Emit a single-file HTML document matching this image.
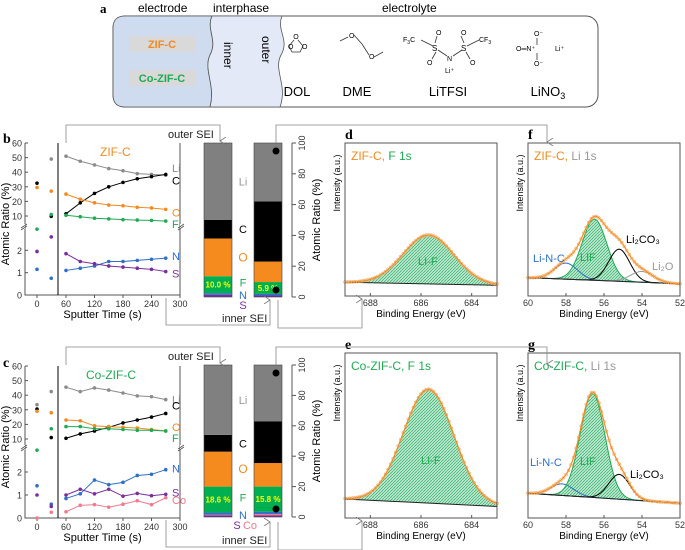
<!DOCTYPE html>
<html><head><meta charset="utf-8"><style>
html,body{margin:0;padding:0;background:#fff}
svg{display:block;font-family:"Liberation Sans",Arial,sans-serif}
</style></head><body>
<svg id="fig" width="685" height="550" viewBox="0 0 685 550" xmlns="http://www.w3.org/2000/svg">
<defs>
<pattern id="hatch" patternUnits="userSpaceOnUse" width="3" height="3"><rect width="3" height="3" fill="#bfe6cf"/><path d="M0,3 L3,0" stroke="#2fb36a" stroke-width="0.7"/></pattern>
<marker id="arr" markerWidth="8" markerHeight="8" refX="4" refY="7" orient="auto-start-reverse" markerUnits="userSpaceOnUse"><path d="M0,1 L4,7 L8,1" fill="none" stroke="#777" stroke-width="0.8"/></marker>
</defs>
<g id="panelA">
<text x="100" y="13" font-family="Liberation Serif" font-weight="bold" font-size="13">a</text>
<text x="138" y="12" font-size="12">electrode</text>
<text x="213" y="12" font-size="12">interphase</text>
<text x="382" y="12" font-size="12">electrolyte</text>
<rect x="113" y="16" width="485" height="91" rx="12" fill="#fff" stroke="#555" stroke-width="1"/>
<path d="M125,16 L212,16 C206,30 218,40 210,55 C203,70 216,85 210,107 L125,107 Q113,107 113,95 L113,28 Q113,16 125,16Z" fill="#cfdcef" stroke="#555" stroke-width="0.8"/>
<path d="M212,16 L282,16 C276,30 290,40 281,55 C273,70 288,85 280,107 L210,107 C216,85 203,70 210,55 C218,40 206,30 212,16Z" fill="#e3e9f6" stroke="#555" stroke-width="0.8"/>
<rect x="129" y="36" width="66" height="16" fill="#d9d9d9"/>
<text x="162" y="48" font-size="11" font-weight="bold" fill="#f28a1e" text-anchor="middle">ZIF-C</text>
<rect x="129" y="70" width="66" height="16" fill="#d9d9d9"/>
<text x="162" y="82" font-size="11" font-weight="bold" fill="#1faa55" text-anchor="middle">Co-ZIF-C</text>
<text transform="translate(224,42) rotate(90)" font-size="12">inner</text>
<text transform="translate(262,36) rotate(90)" font-size="12">outer</text>
<g stroke="#333" stroke-width="0.8" fill="none"><path d="M294,40 L289,46 L292,52 L300,52 L303,46 L298,40"/></g>
<text x="296" y="39" font-size="7" text-anchor="middle">O</text>
<text x="288" y="49" font-size="7">O</text><text x="302" y="49" font-size="7">O</text>
<g stroke="#333" stroke-width="0.8" fill="none"><path d="M340,41 L348,37 M354,35 L362,44 L369,55 M374,57 L383,52"/></g>
<text x="349" y="38" font-size="7">O</text><text x="369" y="59" font-size="7">O</text>
<g stroke="#333" stroke-width="0.8" fill="none"><path d="M421,40 L433,46 M438,50 L447,56 M453,56 L462,50 M467,46 L479,40 M435,43 L437,36 M436,52 L432,59 M464,43 L461,36 M466,52 L470,59"/></g>
<text x="403" y="42" font-size="7">F<tspan font-size="5" dy="2">3</tspan><tspan dy="-2">C</tspan></text>
<text x="432" y="51" font-size="8">S</text><text x="461" y="51" font-size="8">S</text>
<text x="447" y="61" font-size="7">N</text><text x="445" y="73" font-size="7">Li⁺</text>
<text x="436" y="35" font-size="7">O</text><text x="461" y="35" font-size="7">O</text>
<text x="427" y="65" font-size="7">O</text><text x="470" y="65" font-size="7">O</text>
<text x="479" y="42" font-size="7">CF<tspan font-size="5" dy="2">3</tspan></text>
<text x="516" y="51" font-size="7">O═N⁺</text>
<text x="534" y="36" font-size="7">O⁻</text><text x="534" y="66" font-size="7">O⁻</text>
<path d="M537,38 L537,45 M537,53 L537,60" stroke="#333" stroke-width="0.8"/>
<text x="555" y="51" font-size="7">Li⁺</text>
<text x="297" y="96" font-size="13" text-anchor="middle">DOL</text>
<text x="357" y="96" font-size="13" text-anchor="middle">DME</text>
<text x="448" y="96" font-size="13" text-anchor="middle">LiTFSI</text>
<text x="548" y="96" font-size="13" text-anchor="middle">LiNO<tspan font-size="9" dy="3">3</tspan></text>
</g>
<g id="charts"></g>
</svg>
<script>
// ---------- data ----------
const sputterTimes = [60,90,120,150,180,210,240,270];
const earlyTimes = [0,30];
const xTicks = [0,60,120,180,240,300];
const upperTicks = [10,20,30,40,50,60];
const lowerTicks = [0,1,2];
const barTicks = [0,20,40,60,80,100];

const zifLi = [51,47.5,45,42.5,41,39,38.5,38];
const zifC  = [11.5,19,25.5,30,33,35.5,37,38.5];
const zifO  = [25,21.5,19,17.5,17,16,15.5,14.5];
const zifF  = [10.5,9.5,8.5,8,7.5,7.2,7,6.5];
const zifN  = [1.1,1.2,1.3,1.5,1.5,1.55,1.6,1.65];
const zifS  = [1.85,1.5,1.4,1.3,1.25,1.2,1.15,1.05];
const zifEarlyLi = [null,49];
const zifEarlyC  = [32.5,9.8];
const zifEarlyO  = [29.5,27];
const zifEarlyF  = [2.95,11];
const zifEarlyN  = [1.15,0.75];
const zifEarlyS  = [1.95,2.6];

const coLi = [45.5,42.5,45,43.5,41.5,39.5,39,37];
const coC  = [10.5,13.5,15.5,18,21,23,25,27.5];
const coO  = [23,22.5,19,18.5,18,17.5,16.5,15.5];
const coF  = [18.5,18.5,17,17,16.5,16,16,15.5];
const coN  = [0.85,1.05,1.65,1.45,1.55,1.85,1.9,2.1];
const coS  = [1,1.25,1.05,1.25,0.95,1.07,0.97,1.03];
const coCo = [0.27,0.55,0.58,0.47,0.6,0.75,0.58,0.88];
const coEarlyLi = [33.5,42.5];
const coEarlyC  = [30.5,11];
const coEarlyO  = [29,28];
const coEarlyF  = [2.95,17];
const coEarlyN  = [1.4,0.6];
const coEarlyS  = [1,0.5];
const coEarlyCo = [0,0.25];

// stacked bar segments (bottom->top): S, Co, N, F, O, C, Li  (%)
const barSegments = ['S','Co','N','F','O','C','Li'];
const zifOuterBar = [1.5,0,1,11,24.5,12,50];
const zifInnerBar = [1,0,1,7.7,13.3,39,38];
const coOuterBar  = [1,0.5,1.5,17,23,11,46];
const coInnerBar  = [1,1,1.5,16.5,15.5,27.5,37];
const barLabels = ['10.0 %','5.9 %','18.6 %','15.8 %'];

// XPS fits: [center eV, height, sigma]
const dBaseline = [9,7];   const dPeaks = [[685.7,32,1.0]];
const eBaseline = [11.5,7]; const ePeaks = [[685.7,69,1.0]];
const fBaseline = [12,8];
const fPeaks = [[58,10.5,0.6],[56.5,40,0.65],[55.2,21,0.55],[54,7,0.6]];
const gBaseline = [15,9];
const gPeaks = [[58.2,7,0.6],[56.6,63,0.65],[55.2,15,0.55]];
const fTicks=[688,686,684]; const liTicks=[60,58,56,54,52];

// ---------- drawing ----------
const NS='http://www.w3.org/2000/svg';
const root=document.getElementById('charts');
function el(tag,attrs,parent){const e=document.createElementNS(NS,tag);for(const k in attrs)e.setAttribute(k,attrs[k]);(parent||root).appendChild(e);return e;}
function txt(x,y,s,attrs,parent){const t=el('text',Object.assign({x:x,y:y,'font-size':10},attrs||{}),parent);t.textContent=s;return t;}
const COL={Li:'#8c8c8c',C:'#000',O:'#f28a1e',F:'#1faa55',N:'#2f6fc4',S:'#7a2e9e',Co:'#f07a8f'};
const BARCOL={Li:'#808080',C:'#000',O:'#f58a1f',F:'#00b050',N:'#2f6fc4',S:'#7030a0',Co:'#f07a8f'};

function drawLinePanel(cfg){
  const g=el('g',{});
  
  
  const L=cfg.left,R=cfg.right,T=cfg.top,B=cfg.bottom,brk=cfg.brk,y10=cfg.y10;
  const lowPx=(B-brk)/3;
  const yv=v=> v<=3 ? B-v*lowPx : y10-(v-10)*(y10-T)/50;
  const xv=t=> t<45 ? cfg.x0+t*0.475 : cfg.x60+(t-60)*(R-cfg.x60)/240;
  el('path',{d:`M${L},${T} L${L},${B} L${R},${B} L${R},${T}`,fill:'none',stroke:'#555','stroke-width':1},g);
  el('line',{x1:cfg.div,y1:T,x2:cfg.div,y2:B,stroke:'#000','stroke-width':1},g);
  el('rect',{x:L-4,y:brk-4,width:4,height:5,fill:'#fff'},g);
  el('rect',{x:R,y:brk-4,width:4,height:5,fill:'#fff'},g);
  el('path',{d:`M${L-4},${brk} l6,-4 M${L-4},${brk+2} l6,-4 M${R-2},${brk} l6,-4 M${R-2},${brk+2} l6,-4`,stroke:'#555','stroke-width':0.8},g);
  upperTicks.forEach(v=>{const y=yv(v);el('line',{x1:L,x2:L+3,y1:y,y2:y,stroke:'#555'},g);txt(L-3,y+3.5,String(v),{'text-anchor':'end','font-size':9,fill:'#333'},g);});
  lowerTicks.forEach(v=>{const y=yv(v);el('line',{x1:L,x2:L+3,y1:y,y2:y,stroke:'#555'},g);txt(L-3,y+3.5,String(v),{'text-anchor':'end','font-size':9,fill:'#333'},g);});
  xTicks.forEach(t=>{const x=t===0?cfg.x0:xv(t);el('line',{x1:x,x2:x,y1:B,y2:B+3,stroke:'#555'},g);txt(x,B+12,String(t),{'text-anchor':'middle','font-size':9,fill:'#333'},g);});
  txt((L+R)/2,B+23,'Sputter Time (s)',{'text-anchor':'middle','font-size':11},g);
  txt(0,0,'Atomic Ratio (%)',{transform:`translate(${L-16},${(T+B)/2+5}) rotate(-90)`,'text-anchor':'middle','font-size':11},g);
  txt(cfg.titleX,T+13,cfg.title,{'font-size':12,fill:cfg.titleCol},g);
  cfg.series.forEach(s=>{
    const pts=sputterTimes.map((t,i)=>[xv(t),yv(s.v[i])]);
    const ln=el('polyline',{points:pts.map(p=>p.join(',')).join(' '),fill:'none',stroke:COL[s.k],'stroke-width':1},g);
    
    
    pts.forEach(p=>{const c=el('circle',{cx:p[0],cy:p[1],r:1.8,fill:COL[s.k]},g);
      
      });
    s.e.forEach((v,i)=>{if(v===null)return;const c=el('circle',{cx:xv(earlyTimes[i]),cy:yv(v),r:1.8,fill:COL[s.k]},g);
      
      });
    txt(R-8,yv(s.v[7])+s.dy,s.k,{'font-size':11,fill:COL[s.k]},g);
  });
}
function drawBar(x,w,T,B,segs,label,parent){
  let acc=0;const h=B-T;
  segs.forEach((v,i)=>{if(v<=0)return;const y=B-(acc+v)/100*h;
    const r=el('rect',{x:x,y:y,width:w,height:v/100*h,fill:BARCOL[barSegments[i]]},parent);
    
    
    if(barSegments[i]==='F')txt(x+w/2,y+v/100*h/2+3,label,{'text-anchor':'middle','font-size':8,'font-weight':'bold',fill:'#ffff00'},parent);
    acc+=v;});
  el('rect',{x:x,y:T,width:w,height:h,fill:'none',stroke:'#444','stroke-width':0.6},parent);
}
function drawBars(cfg){
  const g=el('g',{});
  
  
  drawBar(204,28,cfg.top,cfg.bottom,cfg.b1,cfg.l1,g);
  drawBar(254,28,cfg.top,cfg.bottom,cfg.b2,cfg.l2,g);
  const ax=292,h=cfg.bottom-cfg.top;
  el('line',{x1:ax,x2:ax,y1:cfg.top,y2:cfg.bottom,stroke:'#555'},g);
  barTicks.forEach(v=>{const y=cfg.bottom-v/100*h;el('line',{x1:ax,x2:ax+4,y1:y,y2:y,stroke:'#555'},g);
    txt(0,0,String(v),{transform:`translate(${ax+13},${y}) rotate(-90)`,'text-anchor':'middle','font-size':9,fill:'#333'},g);});
  txt(0,0,'Atomic Ratio (%)',{transform:`translate(${ax+28},${(cfg.top+cfg.bottom)/2}) rotate(-90)`,'text-anchor':'middle','font-size':11},g);
  const seg=cfg.b1;let acc=0;const mids={};
  seg.forEach((v,i)=>{mids[barSegments[i]]=acc+v/2;acc+=v;});
  txt(243,cfg.bottom-mids.Li/100*h+4,'Li',{'text-anchor':'middle','font-size':11,fill:'#999'},g);
  txt(243,cfg.bottom-mids.C/100*h+4,'C',{'text-anchor':'middle','font-size':11},g);
  txt(243,cfg.bottom-mids.O/100*h+4,'O',{'text-anchor':'middle','font-size':12,fill:COL.O},g);
  txt(243,cfg.bottom-mids.F/100*h+2,'F',{'text-anchor':'middle','font-size':11,fill:COL.F},g);
  txt(243,cfg.bottom+2,'N',{'text-anchor':'middle','font-size':11,fill:COL.N},g);
  if(cfg.co){txt(237,cfg.bottom+12,'S',{'text-anchor':'middle','font-size':11,fill:COL.S},g);txt(250,cfg.bottom+12,'Co',{'text-anchor':'middle','font-size':11,fill:COL.Co},g);}
  else txt(243,cfg.bottom+12,'S',{'text-anchor':'middle','font-size':11,fill:COL.S},g);
  el('circle',{cx:276,cy:cfg.top+8,r:3.5,fill:'#000'},g);
  el('circle',{cx:276,cy:cfg.bottom-cfg.dotB,r:3.5,fill:'#000'},g);
}
function gauss(x,p){return p[1]*Math.exp(-0.5*Math.pow((x-p[0])/p[2],2));}
function drawXPS(cfg){
  const g=el('g',{});
  
  
  const {L,R,T,B,e0,e1}=cfg;
  const xv=e=>L+(e0-e)/(e0-e1)*(R-L);
  const yv=v=>B-v/100*(B-T);
  const base=e=>cfg.base[0]+(cfg.base[1]-cfg.base[0])*(e0-e)/(e0-e1);
  const N=120,es=[];for(let i=0;i<=N;i++)es.push(e0-(e0-e1)*i/N);
  const env=e=>base(e)+cfg.peaks.reduce((s,p)=>s+gauss(e,p),0);
  const mp=cfg.peaks[cfg.main];
  let d='M'+es.map(e=>xv(e)+','+yv(base(e)+gauss(e,mp))).join(' L')+' L'+es.slice().reverse().map(e=>xv(e)+','+yv(base(e))).join(' L')+'Z';
  el('path',{d:d,fill:'url(#hatch)',stroke:'none'},g);
  cfg.peaks.forEach((p,i)=>{const c=el('polyline',{points:es.map(e=>xv(e)+','+yv(base(e)+gauss(e,p))).join(' '),fill:'none',stroke:cfg.pcol[i],'stroke-width':1},g);
    
    });
  el('polyline',{points:es.map(e=>xv(e)+','+yv(base(e))).join(' '),fill:'none',stroke:'#222','stroke-width':1},g);
  const envL=el('polyline',{points:es.map(e=>xv(e)+','+yv(env(e))).join(' '),fill:'none',stroke:'#f28a1e','stroke-width':1.2},g);
  
  
  for(let i=0;i<=N;i+=2){const e=es[i];const c=el('circle',{cx:xv(e),cy:yv(env(e)),r:1.4,fill:'none',stroke:'#f5a55a','stroke-width':0.6},g);
    
    }
  el('rect',{x:L,y:T,width:R-L,height:B-T,fill:'none',stroke:'#555','stroke-width':1},g);
  cfg.ticks.forEach(t=>{const x=xv(t);el('line',{x1:x,x2:x,y1:B,y2:B-3,stroke:'#555'},g);txt(x,B+10,String(t),{'text-anchor':'middle','font-size':9,fill:'#333'},g);});
  txt((L+R)/2,B+21,'Binding Energy (eV)',{'text-anchor':'middle','font-size':10},g);
  if(cfg.ylab)txt(0,0,'Intensity (a.u.)',{transform:`translate(${L-5},${T+40}) rotate(-90)`,'text-anchor':'middle','font-size':9},g);
  const t=txt(L+6,T+17,'',{'font-size':12},g);
  const a=el('tspan',{fill:cfg.tc},t);a.textContent=cfg.t1;
  const b=el('tspan',{fill:cfg.t2c},t);b.textContent=cfg.t2;
  cfg.labels.forEach(l=>txt(l[0],l[1],l[2],{'font-size':11,fill:l[3]},g));
  txt(cfg.letterX,T-4,cfg.letter,{'font-family':'Liberation Serif','font-weight':'bold','font-size':14},g);
}
drawLinePanel({name:'panel-b-zif-c-depth-profile',left:25,right:180,top:143,bottom:295,brk:228,y10:216,div:58,x0:37,x60:66,title:'ZIF-C',titleCol:'#f28a1e',titleX:100,
  series:[{k:'Li',v:zifLi,e:zifEarlyLi,dy:-3},{k:'C',v:zifC,e:zifEarlyC,dy:10},{k:'O',v:zifO,e:zifEarlyO,dy:7},{k:'F',v:zifF,e:zifEarlyF,dy:7},{k:'N',v:zifN,e:zifEarlyN,dy:2},{k:'S',v:zifS,e:zifEarlyS,dy:6}]});
drawLinePanel({name:'panel-c-co-zif-c-depth-profile',left:25,right:180,top:366,bottom:518,brk:449,y10:439,div:58,x0:37,x60:66,title:'Co-ZIF-C',titleCol:'#1faa55',titleX:86,
  series:[{k:'Li',v:coLi,e:coEarlyLi,dy:4},{k:'C',v:coC,e:coEarlyC,dy:-4},{k:'O',v:coO,e:coEarlyO,dy:0},{k:'F',v:coF,e:coEarlyF,dy:11},{k:'N',v:coN,e:coEarlyN,dy:3},{k:'S',v:coS,e:coEarlyS,dy:2},{k:'Co',v:coCo,e:coEarlyCo,dy:6}]});
txt(3,143,'b',{'font-family':'Liberation Serif','font-weight':'bold','font-size':14});
txt(3,367,'c',{'font-family':'Liberation Serif','font-weight':'bold','font-size':14});
drawBars({name:'panel-b-sei-bars',top:143,bottom:297,b1:zifOuterBar,b2:zifInnerBar,l1:barLabels[0],l2:barLabels[1],dotB:7,co:false});
drawBars({name:'panel-c-sei-bars',top:365,bottom:517,b1:coOuterBar,b2:coInnerBar,l1:barLabels[2],l2:barLabels[3],dotB:8,co:true});
drawXPS({name:'panel-d-zif-f1s',letter:'d',letterX:345,L:345,R:497,T:143,B:296,e0:689,e1:683,base:dBaseline,peaks:dPeaks,main:0,pcol:['#1faa55'],ticks:fTicks,ylab:true,t1:'ZIF-C, ',tc:'#f28a1e',t2:'F 1s',t2c:'#1faa55',labels:[[418,265,'LI-F','#1faa55']]});
drawXPS({name:'panel-e-co-zif-f1s',letter:'e',letterX:345,L:345,R:497,T:353,B:518,e0:689,e1:683,base:eBaseline,peaks:ePeaks,main:0,pcol:['#1faa55'],ticks:fTicks,ylab:true,t1:'Co-ZIF-C, ',tc:'#1faa55',t2:'F 1s',t2c:'#1faa55',labels:[[421,464,'LI-F','#1faa55']]});
drawXPS({name:'panel-f-zif-li1s',letter:'f',letterX:528,L:528,R:680,T:143,B:296,e0:60,e1:52,base:fBaseline,peaks:fPeaks,main:1,pcol:['#2f6fc4','#1faa55','#000','#999'],ticks:liTicks,ylab:true,t1:'ZIF-C, ',tc:'#f28a1e',t2:'Li 1s',t2c:'#999',labels:[[533,262,'Li-N-C','#2f6fc4'],[580,261,'LIF','#1faa55'],[626,243,'Li₂CO₃','#000'],[652,270,'Li₂O','#999']]});
drawXPS({name:'panel-g-co-zif-li1s',letter:'g',letterX:528,L:528,R:680,T:353,B:518,e0:60,e1:52,base:gBaseline,peaks:gPeaks,main:1,pcol:['#2f6fc4','#1faa55','#000'],ticks:liTicks,ylab:true,t1:'Co-ZIF-C, ',tc:'#1faa55',t2:'Li 1s',t2c:'#999',labels:[[530,466,'Li-N-C','#2f6fc4'],[580,465,'LIF','#1faa55'],[630,478,'Li₂CO₃','#000']]});
const cg=el('g',{fill:'none',stroke:'#888','stroke-width':0.8});


[[0,0],[222,1]].forEach(([dy,co])=>{
  el('path',{d:`M66,${143+dy} L66,${125+dy} L220,${125+dy} L220,${141+dy}`,'marker-end':'url(#arr)'},cg);
  el('path',{d:`M276,${143+dy} L276,${125+dy} L547,${125+dy} L547,${142+dy}`,'marker-end':'url(#arr)'},cg);
  el('path',{d:`M166,${298+dy} L166,${325+dy} L270,${325+dy} L270,${300+dy}`,'marker-end':'url(#arr)'},cg);
  el('path',{d:`M278,${300+dy} L278,${328+dy} L362,${328+dy} L362,${299+dy}`,'marker-end':'url(#arr)'},cg);
  txt(168,138+dy,'outer SEI',{'font-size':11,stroke:'none',fill:'#222'});
  txt(222,322+dy,'inner SEI',{'font-size':11,stroke:'none',fill:'#222'});
});
</script>
</body></html>
